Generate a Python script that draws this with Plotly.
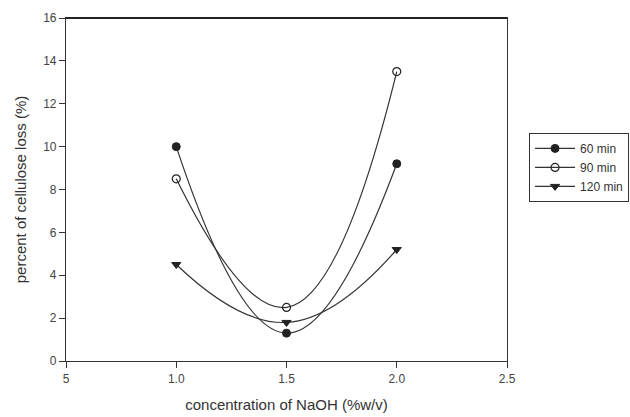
import plotly.graph_objects as go

# NaOH concentration (% w/v)
naoh = [1.0, 1.5, 2.0]

# Cellulose loss (%) at each treatment time
loss_60 = [10.0, 1.3, 9.2]
loss_90 = [8.5, 2.5, 13.5]
loss_120 = [4.5, 1.8, 5.2]

x_tick_vals = [0.5, 1.0, 1.5, 2.0, 2.5]
x_tick_text = ["5", "1.0", "1.5", "2.0", "2.5"]
y_tick_vals = [0, 2, 4, 6, 8, 10, 12, 14, 16]

line_color = "#333333"
ink = "#222222"

series = [
    ("60 min", loss_60, dict(symbol="circle", color=ink, size=8,
                             line=dict(color=ink, width=1))),
    ("90 min", loss_90, dict(symbol="circle-open", color=ink, size=8,
                             line=dict(color=ink, width=1.2))),
    ("120 min", loss_120, dict(symbol="triangle-down", color=ink, size=8,
                               line=dict(color=ink, width=1))),
]

fig = go.Figure()
for name, ys, marker in series:
    fig.add_trace(go.Scatter(
        x=naoh, y=ys, name=name, mode="lines+markers",
        line=dict(color=line_color, width=1.2, shape="spline", smoothing=1.3),
        marker=marker,
    ))

family = "Liberation Sans, Arial, sans-serif"

# heavier top edge of the frame
fig.add_shape(type="line", xref="paper", yref="paper", x0=0, x1=1, y0=1, y1=1,
              line=dict(color="#222222", width=2))

fig.update_layout(
    width=630, height=417,
    margin=dict(l=66, r=123, t=18, b=56, autoexpand=False),
    paper_bgcolor="white", plot_bgcolor="white",
    font=dict(family=family, size=12, color="#333333"),
    showlegend=True,
    legend=dict(
        x=1.05, y=0.665, xanchor="left", yanchor="top",
        bordercolor="#333333", borderwidth=1, bgcolor="white",
        font=dict(family=family, size=12, color="#333333"),
        tracegroupgap=0, itemwidth=40,
    ),
    xaxis=dict(
        range=[0.5, 2.5], tickvals=x_tick_vals, ticktext=x_tick_text,
        ticks="outside", ticklen=6, tickwidth=1, tickcolor="#333333",
        showline=True, linecolor="#333333", linewidth=1.2, mirror=True,
        showgrid=False, zeroline=False, automargin=False,
        title=dict(text="concentration of NaOH (%w/v)", standoff=14,
                   font=dict(size=15, color="#333333")),
        tickfont=dict(size=12, color="#444444"),
    ),
    yaxis=dict(
        range=[0, 16], tickvals=y_tick_vals,
        ticks="outside", ticklen=6, tickwidth=1, tickcolor="#333333",
        showline=True, linecolor="#333333", linewidth=1.2, mirror=True,
        showgrid=False, zeroline=False, automargin=False,
        title=dict(text="percent of cellulose loss (%)", standoff=12,
                   font=dict(size=15, color="#333333")),
        tickfont=dict(size=12, color="#444444"),
    ),
)

fig.write_html("out.html")
